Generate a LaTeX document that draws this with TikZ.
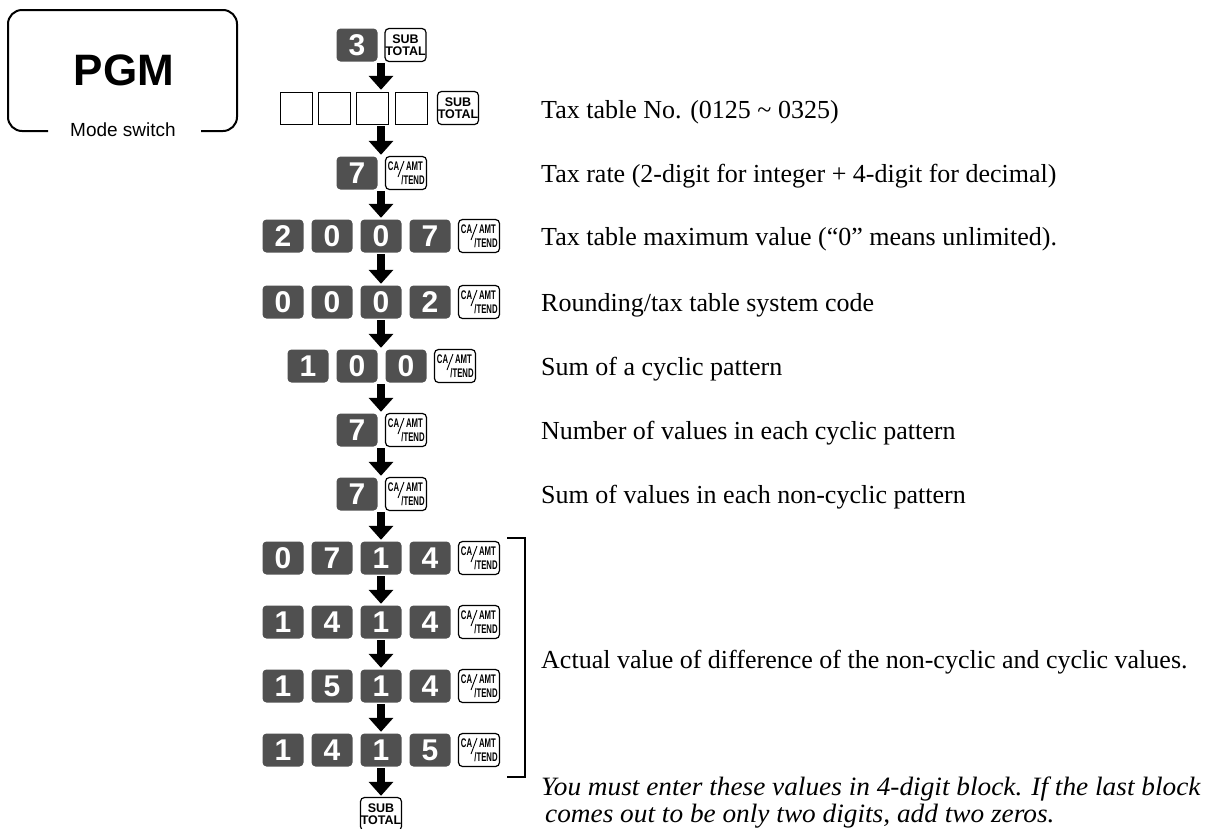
\documentclass[tikz,border=0pt]{standalone}
\usepackage{fontspec}
\setmainfont{Liberation Serif}
\setsansfont{Liberation Sans}
\newfontfamily\narrowsans[FakeStretch=0.62]{Liberation Sans}
\newfontfamily\noteserif[FakeStretch=1.03]{Liberation Serif}
\usetikzlibrary{arrows.meta, positioning}
\definecolor{keygray}{RGB}{80,80,80}

\newcommand{\desctext}{\fontsize{26}{30}\selectfont}
\newcommand{\notetext}{\fontsize{26.5}{27}\selectfont\noteserif\itshape}

% CA/AMT/TEND key: name, position
\newcommand{\cakey}[2]{%
  \node[funckey] (#1) at (#2) {};
  \node[catext] (#1-ca)   at ([shift={(-12.5,-6.5)}]#1.center) {CA};
  \node[catext] (#1-amt)  at ([shift={(8.5,-6.5)}]#1.center)  {AMT};
  \node[catext] (#1-tend) at ([shift={(7,7)}]#1.center)       {/TEND};
  \draw[line width=0.9pt] ([shift={(-8,4)}]#1.center) -- ([shift={(-2,-12)}]#1.center);
}

\begin{document}
\begin{tikzpicture}[
    x=1pt, y=-1pt,
    numkey/.style={rectangle, rounded corners=4pt, fill=keygray, text=white,
      inner sep=0pt, minimum width=41pt, minimum height=33pt,
      font=\fontsize{30}{30}\selectfont\sffamily\bfseries},
    funckey/.style={rectangle, rounded corners=4pt, draw, line width=1.2pt, fill=white,
      inner sep=0pt, minimum width=41pt, minimum height=33pt},
    subkey/.style={funckey, align=center,
      font=\fontsize{12.5}{12}\selectfont\sffamily\bfseries},
    catext/.style={inner sep=0pt, font=\fontsize{12.5}{12.5}\selectfont\narrowsans\bfseries},
    blankbox/.style={rectangle, draw, line width=0.8pt, inner sep=0pt,
      minimum width=32pt, minimum height=32pt},
    rowbox/.style={inner sep=0pt, minimum width=2pt, minimum height=36pt},
    downarrow/.style={line width=8pt, -{Triangle[length=14pt, width=24pt]}},
    desc/.style={anchor=base west, inner sep=0pt, font=\desctext},
    note/.style={anchor=base west, inner sep=0pt, font=\notetext}
]
\useasboundingbox (0,0) rectangle (1220,828);

% mode switch
\draw[line width=2pt, rounded corners=14pt] (48,131) -- (8,131) -- (8,10) -- (237,10) -- (237,131) -- (201,131);
\node[font=\fontsize{44}{44}\selectfont\sffamily\bfseries] (pgm) at (124,70) {PGM};
\node[font=\fontsize{19}{19}\selectfont\sffamily, inner sep=0pt] (modesw) at (123,130) {Mode switch};

% column of rows for the arrows
\foreach \y [count=\i] in {45,108,173,236,302,366,430,494,558,622,686,750,814}
  \node[rowbox] (row\i) at (381,\y) {};

% keys
\node[numkey] (k1a) at (357,45) {3};
\node[subkey] (k1s) at (405.5,45) {SUB\\TOTAL};

\foreach \i in {1,...,4}
  \node[blankbox] (k2\i) at ({296+38.3*(\i-1)},108) {};
\node[subkey] (k2s) at (458,108) {SUB\\TOTAL};

\node[numkey] (k3a) at (357,173) {7};
\cakey{k3c}{406,173}

\foreach \d [count=\i] in {2,0,0,7}
  \node[numkey] (k4\i) at ({283+49*(\i-1)},236) {\d};
\cakey{k4c}{479,236}

\foreach \d [count=\i] in {0,0,0,2}
  \node[numkey] (k5\i) at ({283+49*(\i-1)},302) {\d};
\cakey{k5c}{479,302}

\foreach \d [count=\i] in {1,0,0}
  \node[numkey] (k6\i) at ({308+49*(\i-1)},366) {\d};
\cakey{k6c}{455,366}

\node[numkey] (k7a) at (357,430) {7};
\cakey{k7c}{406,430}

\node[numkey] (k8a) at (357,494) {7};
\cakey{k8c}{406,494}

\foreach \y/\digits [count=\r from 9] in {558/{0,7,1,4}, 622/{1,4,1,4}, 686/{1,5,1,4}, 750/{1,4,1,5}} {
  \foreach \d [count=\i] in \digits
    \node[numkey] (k\r\i) at ({283+49*(\i-1)},\y) {\d};
  \cakey{k\r c}{479,\y}
}

\node[subkey] (k13) at (381,814) {SUB\\TOTAL};

% arrows
\foreach \i [remember=\i as \last (initially 1)] in {2,...,13}
  \draw[downarrow] (row\last) -- (row\i);

% bracket
\draw[line width=2pt] (507,538) -- (525,538) -- (525,777) -- (507,777);

% descriptions
\node[desc] (d2) at (541,118) {Tax table No. (0125 \textasciitilde{} 0325)};
\node[desc] (d3) at (541,182) {Tax rate (2-digit for integer + 4-digit for decimal)};
\node[desc] (d4) at (541,245) {Tax table maximum value (“0” means unlimited).};
\node[desc] (d5) at (541,311) {Rounding/tax table system code};
\node[desc] (d6) at (541,375) {Sum of a cyclic pattern};
\node[desc] (d7) at (541,439) {Number of values in each cyclic pattern};
\node[desc] (d8) at (541,503) {Sum of values in each non-cyclic pattern};
\node[desc] (d9) at (541,668) {Actual value of difference of the non-cyclic and cyclic values.};
\node[note] (n1) at (541,795) {You must enter these values in 4-digit block. If the last block};
\node[note] (n2) at (545,822) {comes out to be only two digits, add two zeros.};
\end{tikzpicture}
\end{document}
